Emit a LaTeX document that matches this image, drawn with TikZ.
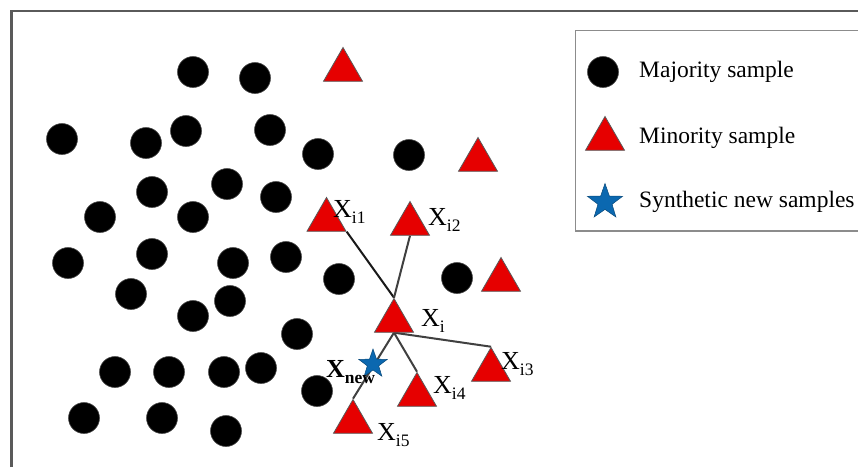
\documentclass[tikz,border=0pt]{standalone}
\usepackage{fontspec}
\setmainfont{Liberation Serif}
\usetikzlibrary{shapes.geometric,backgrounds}
\definecolor{minred}{HTML}{E60000}
\definecolor{synblue}{HTML}{0B68B0}
\definecolor{framegray}{HTML}{5A5A5A}
\definecolor{leggray}{HTML}{8C8C8C}
\tikzset{
 maj/.style={circle,fill=black,draw=black!70,line width=0.6pt,minimum size=31pt,inner sep=0pt},
 mino/.style={regular polygon,regular polygon sides=3,fill=minred,draw=black!65,line width=0.8pt,minimum size=45pt,inner sep=0pt},
 syn/.style={star,star points=5,star point ratio=2.5,fill=synblue,draw=synblue!70!black,line width=0.5pt,inner sep=0pt},
 lbl/.style={anchor=base west,inner sep=0pt,font=\fontsize{26}{26}\selectfont},
 link/.style={line width=2pt,draw=black!75},
 legtxt/.style={anchor=base west,inner sep=0pt,font=\fontsize{23.5}{26}\selectfont},
}
\newcommand{\sbx}[1]{\raisebox{-0.24em}{\fontsize{17.5}{17.5}\selectfont #1}}
\begin{document}
\begin{tikzpicture}[x=1pt,y=-1pt]
\useasboundingbox (0,0) rectangle (858,467);
% frames
\draw[framegray,line width=2.2pt] (11.5,467) -- (11.5,10.7) -- (858,10.7);
\draw[leggray,line width=1.3pt] (858,30.7) -- (575.5,30.7) -- (575.5,231) -- (858,231);
% majority samples
\foreach \x/\y [count=\i] in {193/72,255/78,62/139,146/143,186/131,270/130,318/154,409/155,152/192,227/184,276/197,100/217,193/217,68/263,152/254,233/263,286/257,339/279,457/278,131/294,230/301,193/316,297/334,115/372,169/372,224/372,261/368,317/391,84/418,162/418,226/431}
  \node[maj] (c\i) at (\x,\y) {};
% minority samples
\node[mino] (t1) at (343,70) {};
\node[mino] (t2) at (478,160) {};
\node[mino] (t3) at (501,280) {};
\node[mino] (xi1) at (326.5,220) {};
\node[mino] (xi2) at (410,224) {};
\node[mino] (xi) at (394,321) {};
\node[mino] (xi3) at (491,370) {};
\node[mino] (xi4) at (417,395) {};
\node[mino] (xi5) at (353,422) {};
% links
\begin{scope}[on background layer]
\fill[white] (0,0) rectangle (858,467);
\draw[link,draw=black!90] (xi1.corner 3) -- (xi.corner 1);
\draw[link] (xi2.side 2) -- (xi.corner 1);
\draw[link] (xi.side 2) -- (xi3.corner 1);
\draw[link] (xi.side 2) -- (xi4.corner 1);
\draw[link] (xi.side 2) -- (xi5.corner 1);
\end{scope}
% synthetic sample
\node[syn,minimum size=30pt] (xnew) at (373,364) {};
% labels
\node[lbl] (lxi1) at (333,217) {X\sbx{i1}};
\node[lbl] (lxi2) at (428,225) {X\sbx{i2}};
\node[lbl] (lxi) at (421,326) {X\sbx{i}};
\node[lbl] (lxi3) at (501,369) {X\sbx{i3}};
\node[lbl] (lxi4) at (433,393) {X\sbx{i4}};
\node[lbl] (lxi5) at (377,440) {X\sbx{i5}};
\node[lbl] (lxnew) at (326,377) {\textbf{X\sbx{\bfseries new}}};
% legend
\node[maj] (lgc) at (603,72) {};
\node[mino] (lgt) at (605,139) {};
\node[syn,minimum size=37pt] (lgs) at (605,202) {};
\node[legtxt] (lgc-t) at (639,77) {Majority sample};
\node[legtxt] (lgt-t) at (639,143) {Minority sample};
\node[legtxt] (lgs-t) at (639,207) {Synthetic new samples};
\end{tikzpicture}
\end{document}
